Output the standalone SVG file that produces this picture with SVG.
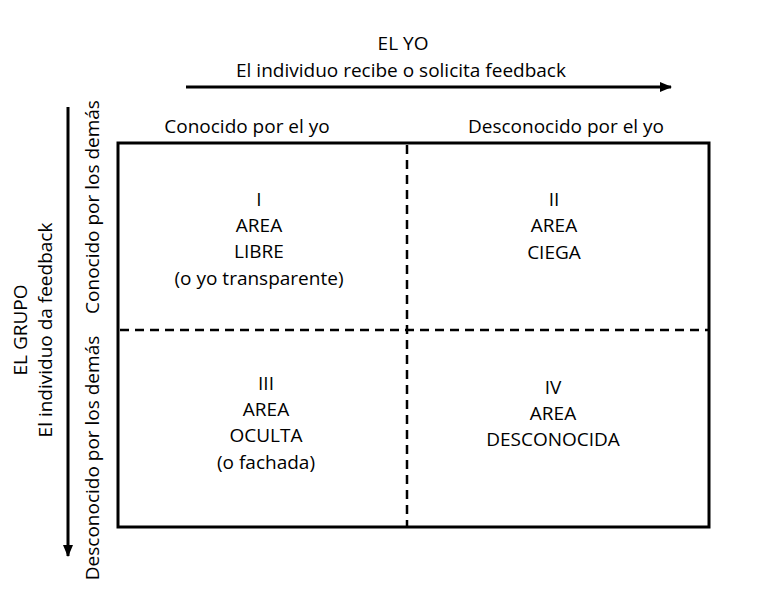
<svg xmlns="http://www.w3.org/2000/svg" width="768" height="589" viewBox="0 0 768 589">
<style>
text{font-family:"Open Sans","Noto Sans",sans-serif;font-size:19px;fill:#000;text-anchor:middle}
.d{stroke:#000;stroke-width:2.5;stroke-dasharray:9,6;fill:none}
.a{stroke:#000;stroke-width:3;fill:none}
</style>
<defs><marker id="ah" markerWidth="12" markerHeight="10" refX="11" refY="5" orient="auto" markerUnits="userSpaceOnUse"><path d="M0,0 L12,5 L0,10 Z" fill="#000"/></marker></defs>
<rect width="768" height="589" fill="#fff"/>
<g id="connectors">
<line class="a" x1="186" y1="87" x2="671" y2="87" marker-end="url(#ah)"/>
<line class="a" x1="68" y1="107" x2="68" y2="556" marker-end="url(#ah)"/>
</g>
<g id="axis-top">
<text x="403" y="50">EL YO</text>
<text x="401" y="77">El individuo recibe o solicita feedback</text>
<text x="247" y="133">Conocido por el yo</text>
<text x="566" y="133">Desconocido por el yo</text>
</g>
<g id="axis-left">
<text transform="translate(27,330) rotate(-90)">EL GRUPO</text>
<text transform="translate(52,330) rotate(-90)">El individuo da feedback</text>
<text transform="translate(99,207) rotate(-90)">Conocido por los demás</text>
<text transform="translate(99,458) rotate(-90)">Desconocido por los demás</text>
</g>
<g id="grid">
<rect x="118" y="143" width="591" height="384" fill="none" stroke="#000" stroke-width="3"/>
<line class="d" x1="407" y1="145" x2="407" y2="526"/>
<line class="d" x1="120" y1="330" x2="708" y2="330"/>
</g>
<g id="q1"><text x="259" y="206">I</text><text x="259" y="232">AREA</text><text x="259" y="258">LIBRE</text><text x="259" y="285">(o yo transparente)</text></g>
<g id="q2"><text x="554" y="206">II</text><text x="554" y="232">AREA</text><text x="554" y="259">CIEGA</text></g>
<g id="q3"><text x="266" y="390">III</text><text x="266" y="416">AREA</text><text x="266" y="442">OCULTA</text><text x="266" y="469">(o fachada)</text></g>
<g id="q4"><text x="553" y="394">IV</text><text x="553" y="420">AREA</text><text x="553" y="446">DESCONOCIDA</text></g>
</svg>
